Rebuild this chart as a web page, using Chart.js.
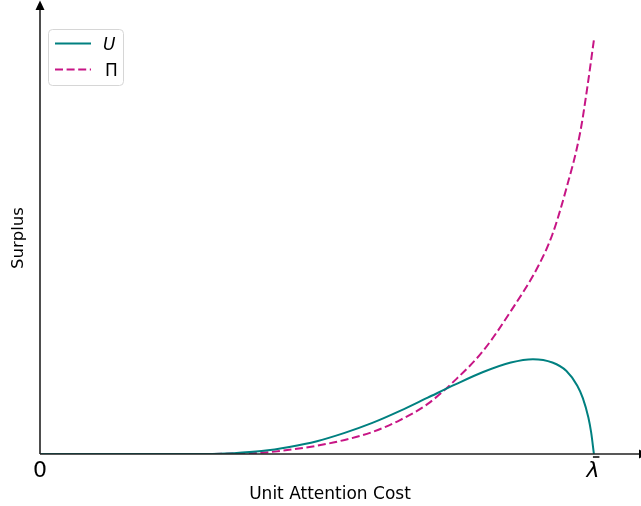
<!DOCTYPE html>
<html>
<head>
<meta charset="utf-8">
<script src="https://cdn.jsdelivr.net/npm/chart.js@4.4.1/dist/chart.umd.min.js"></script>
<style>
html,body{margin:0;padding:0;background:#fff;}
#wrap{width:641px;height:506px;}
</style>
</head>
<body>
<div id="wrap"><canvas id="c" width="641" height="506"></canvas></div>
<script>
// Unit attention cost (relative to lambda-bar) and surplus values
const uCost   = [0, 0.10, 0.20, 0.30, 0.35, 0.40, 0.45, 0.50, 0.55, 0.60, 0.65, 0.70, 0.75, 0.80, 0.85, 0.89, 0.925, 0.95, 0.97, 0.98, 0.99, 0.995, 1.0];
const uValues = [0, 0.0, 0.0, 0.0, 0.002, 0.007, 0.017, 0.031, 0.051, 0.075, 0.104, 0.136, 0.168, 0.198, 0.221, 0.229, 0.221, 0.201, 0.165, 0.135, 0.088, 0.052, 0.0];
const piCost   = [0, 0.10, 0.20, 0.30, 0.35, 0.40, 0.45, 0.50, 0.55, 0.60, 0.65, 0.70, 0.75, 0.80, 0.85, 0.90, 0.925, 0.95, 0.975, 0.9875, 1.0];
const piValues = [0, 0.0, 0.0, 0.0, 0.001, 0.003, 0.010, 0.020, 0.034, 0.053, 0.082, 0.121, 0.179, 0.249, 0.345, 0.455, 0.530, 0.640, 0.775, 0.880, 1.0];
const seriesNames = ['U', 'Π'];
const xTickValues = [0, 1];
const xTickLabels = ['0', 'λ'];
const xTitle = 'Unit Attention Cost';
const yTitle = 'Surplus';

const toPts = (xs, ys) => xs.map((x, i) => ({x: x, y: ys[i]}));

const overlay = {
  id: 'overlay',
  afterDraw(chart) {
    const ctx = chart.ctx;
    const xs = chart.scales.x, ys = chart.scales.y;
    const x0 = xs.getPixelForValue(0), y0 = ys.getPixelForValue(0);
    ctx.save();
    // axes
    ctx.strokeStyle = '#222';
    ctx.lineWidth = 1.6;
    ctx.beginPath();
    ctx.moveTo(x0, y0); ctx.lineTo(641, y0);
    ctx.moveTo(x0, y0); ctx.lineTo(x0, 6);
    ctx.stroke();
    ctx.fillStyle = '#000';
    ctx.beginPath();
    ctx.moveTo(x0, 0.5); ctx.lineTo(x0 - 4.5, 10); ctx.lineTo(x0 + 4.5, 10); ctx.closePath(); ctx.fill();
    ctx.beginPath();
    ctx.moveTo(648, y0); ctx.lineTo(639, y0 - 4.5); ctx.lineTo(639, y0 + 4.5); ctx.closePath(); ctx.fill();
    // tick labels
    ctx.fillStyle = '#000';
    ctx.textAlign = 'center';
    ctx.textBaseline = 'alphabetic';
    ctx.font = '22px "DejaVu Sans"';
    const px0 = xs.getPixelForValue(xTickValues[0]);
    ctx.fillText(xTickLabels[0], px0, 477);
    const px1 = xs.getPixelForValue(xTickValues[1]);
    ctx.font = 'italic 22px "DejaVu Sans"';
    ctx.fillText(xTickLabels[1], px1 - 1, 477);
    ctx.strokeStyle = '#000';
    ctx.lineWidth = 1.5;
    ctx.beginPath(); ctx.moveTo(px1 - 1, 457); ctx.lineTo(px1 + 5.5, 457); ctx.stroke();
    // titles
    ctx.font = '17px "DejaVu Sans"';
    ctx.fillText(xTitle, 330, 499);
    ctx.save();
    ctx.font = '16.5px "DejaVu Sans"';
    ctx.translate(19, 238);
    ctx.rotate(-Math.PI / 2);
    ctx.textBaseline = 'middle';
    ctx.fillText(yTitle, 0, 0);
    ctx.restore();
    // legend
    const lx = 48.5, ly = 29.5, lw = 75, lh = 56, r = 4;
    ctx.beginPath();
    ctx.moveTo(lx + r, ly); ctx.lineTo(lx + lw - r, ly); ctx.quadraticCurveTo(lx + lw, ly, lx + lw, ly + r);
    ctx.lineTo(lx + lw, ly + lh - r); ctx.quadraticCurveTo(lx + lw, ly + lh, lx + lw - r, ly + lh);
    ctx.lineTo(lx + r, ly + lh); ctx.quadraticCurveTo(lx, ly + lh, lx, ly + lh - r);
    ctx.lineTo(lx, ly + r); ctx.quadraticCurveTo(lx, ly, lx + r, ly); ctx.closePath();
    ctx.fillStyle = 'rgba(255,255,255,0.8)'; ctx.fill();
    ctx.strokeStyle = '#d6d6d6'; ctx.lineWidth = 1; ctx.stroke();
    const ds = chart.data.datasets;
    const rows = [43.5, 69.5];
    ds.forEach((d, i) => {
      ctx.strokeStyle = d.borderColor; ctx.lineWidth = 2;
      ctx.setLineDash(d.borderDash || []);
      ctx.beginPath(); ctx.moveTo(55, rows[i]); ctx.lineTo(91, rows[i]); ctx.stroke();
      ctx.setLineDash([]);
      ctx.fillStyle = '#000';
      ctx.textAlign = 'left'; ctx.textBaseline = 'alphabetic';
      ctx.font = (i === 0 ? 'italic ' : '') + '17px "DejaVu Sans"';
      ctx.fillText(d.label, i === 0 ? 103 : 105, rows[i] + 6.5);
    });
    ctx.restore();
  }
};

new Chart(document.getElementById('c'), {
  type: 'line',
  data: {
    datasets: [
      { label: seriesNames[0], data: toPts(uCost, uValues), borderColor: '#008080', borderWidth: 2,
        pointRadius: 0, fill: false, cubicInterpolationMode: 'monotone' },
      { label: seriesNames[1], data: toPts(piCost, piValues), borderColor: '#C71585', borderWidth: 2,
        borderDash: [8, 3.6], pointRadius: 0, fill: false, cubicInterpolationMode: 'monotone' }
    ]
  },
  options: {
    responsive: false,
    animation: false,
    layout: { padding: { left: 40, right: 0, top: 3, bottom: 52 } },
    scales: {
      x: { type: 'linear', min: 0, max: 1.085, display: false },
      y: { type: 'linear', min: 0, max: 1.089, display: false }
    },
    plugins: { legend: { display: false }, tooltip: { enabled: false } }
  },
  plugins: [overlay]
});
</script>
</body>
</html>
